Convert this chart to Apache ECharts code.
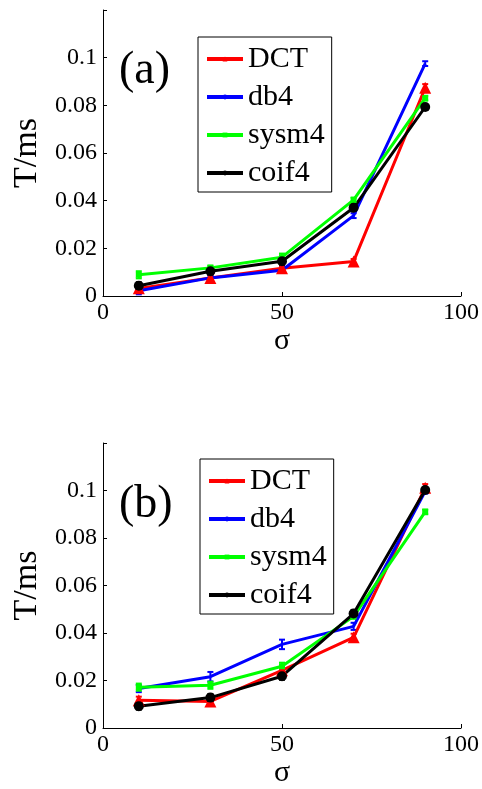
<!DOCTYPE html>
<html>
<head>
<meta charset="utf-8">
<script src="https://cdn.jsdelivr.net/npm/echarts@6/dist/echarts.min.js"></script>
<style>
html,body{margin:0;padding:0;background:#fff;}
#c{width:482px;height:789px;}
</style>
</head>
<body>
<div id="c"></div>
<script>
const sigma = [10, 30, 50, 70, 90];
const seriesNames = ['DCT', 'db4', 'sysm4', 'coif4'];
// panel (a) means
const a_DCT   = [0.0032, 0.0076, 0.0116, 0.0145, 0.0874];
const a_db4   = [0.0022, 0.0076, 0.0108, 0.0337, 0.0975];
const a_sysm4 = [0.0089, 0.0118, 0.0163, 0.0403, 0.0830];
const a_coif4 = [0.0043, 0.0104, 0.0146, 0.0370, 0.0793];
// panel (a) error half-widths
const a_DCT_err   = [0.0010, 0.0010, 0.0010, 0.0010, 0.0015];
const a_db4_err   = [0.0015, 0.0010, 0.0010, 0.0010, 0.0010];
const a_sysm4_err = [0.0015, 0.0010, 0.0015, 0.0010, 0.0010];
const a_coif4_err = [0.0015, 0.0015, 0.0015, 0.0015, 0.0010];
// panel (b) means
const b_DCT   = [0.0117, 0.0112, 0.0243, 0.0382, 0.1012];
const b_db4   = [0.0166, 0.0216, 0.0352, 0.0428, 0.0997];
const b_sysm4 = [0.0172, 0.0180, 0.0260, 0.0470, 0.0910];
const b_coif4 = [0.0092, 0.0128, 0.0218, 0.0482, 0.1002];
// panel (b) error half-widths
const b_DCT_err   = [0.0015, 0.0015, 0.0015, 0.0015, 0.0015];
const b_db4_err   = [0.0015, 0.0020, 0.0020, 0.0015, 0.0010];
const b_sysm4_err = [0.0015, 0.0015, 0.0015, 0.0010, 0.0010];
const b_coif4_err = [0.0015, 0.0015, 0.0015, 0.0015, 0.0010];
const yTicks = [0, 0.02, 0.04, 0.06, 0.08, 0.1];
const xTicks = [0, 50, 100];

const colors = {DCT:'#ff0000', db4:'#0000ff', sysm4:'#00ff00', coif4:'#000000'};
const symbols = {DCT:'triangle', db4:'none', sysm4:'rect', coif4:'circle'};
const symSizes = {DCT:12, db4:0, sysm4:6, coif4:10};
const FONT = 'Liberation Serif';

function mkSeries(name, vals, idx){
  return {
    name: name, type: 'line', xAxisIndex: idx, yAxisIndex: idx,
    data: sigma.map((s,i)=>[s, vals[i]]),
    symbol: symbols[name], symbolSize: symSizes[name], showSymbol: symbols[name] !== 'none',
    lineStyle: {color: colors[name], width: 3},
    itemStyle: {color: colors[name]},
    animation: false
  };
}
function mkErr(name, vals, errs, idx){
  return {
    name: name + ' err', type: 'custom', xAxisIndex: idx, yAxisIndex: idx,
    data: sigma.map((s,i)=>[s, vals[i] - errs[i], vals[i] + errs[i]]),
    encode: {x: 0, y: [1, 2]},
    silent: true, animation: false,
    renderItem: function(params, api){
      const lo = api.coord([api.value(0), api.value(1)]);
      const hi = api.coord([api.value(0), api.value(2)]);
      const hw = 3;
      const st = {stroke: colors[name], lineWidth: 2, fill: null};
      return {type:'group', children:[
        {type:'line', shape:{x1:lo[0], y1:lo[1], x2:hi[0], y2:hi[1]}, style: st},
        {type:'line', shape:{x1:lo[0]-hw, y1:lo[1], x2:lo[0]+hw, y2:lo[1]}, style: st},
        {type:'line', shape:{x1:hi[0]-hw, y1:hi[1], x2:hi[0]+hw, y2:hi[1]}, style: st}
      ]};
    }
  };
}
function xAxis(idx){
  return {
    type:'value', gridIndex: idx, min:0, max:100, interval:50,
    axisLine:{show:true, onZero:false, lineStyle:{color:'#000', width:1}},
    axisTick:{show:true, inside:true, length:4, lineStyle:{color:'#000'}},
    splitLine:{show:false},
    axisLabel:{color:'#000', fontFamily:FONT, fontSize:24, margin:5},
    name:'σ', nameLocation:'middle', nameGap:30,
    nameTextStyle:{color:'#000', fontFamily:FONT, fontSize:30}
  };
}
function yAxis(idx){
  return {
    type:'value', gridIndex: idx, min:0, max:0.12, interval:0.02,
    axisLine:{show:true, onZero:false, lineStyle:{color:'#000', width:1}},
    axisTick:{show:true, inside:true, length:4, lineStyle:{color:'#000'}},
    splitLine:{show:false},
    axisLabel:{color:'#000', fontFamily:FONT, fontSize:24, margin:6,
      formatter: v => { const r = +(+v).toFixed(2); return yTicks.some(t=>Math.abs(t-r)<1e-9) ? String(r) : ''; }},
    name:'T/ms', nameLocation:'middle', nameGap:56, nameRotate:90,
    nameTextStyle:{color:'#000', fontFamily:FONT, fontSize:34}
  };
}
function legend(left, top){
  return {
    left:left, top:top, orient:'vertical', align:'left',
    data: seriesNames,
    itemWidth:36, itemHeight:6, itemGap:8,
    padding:[7,7,4,7],
    borderColor:'#000', borderWidth:1, backgroundColor:'#fff',
    lineStyle:{width:4},
    textStyle:{color:'#000', fontFamily:FONT, fontSize:30, lineHeight:30},
    selectedMode:false
  };
}

const chart = echarts.init(document.getElementById('c'), null, {renderer:'canvas'});
chart.setOption({
  animation:false,
  backgroundColor:'#fff',
  textStyle:{fontFamily:FONT},
  grid:[
    {left:103, right:21, top:10, height:286},
    {left:103, right:21, top:443, height:288}
  ],
  xAxis:[xAxis(0), xAxis(1)],
  yAxis:[yAxis(0), yAxis(1)],
  legend:[legend(198,37), legend(200,459)],
  graphic:[
    {type:'text', left:119, top:48, style:{text:'(a)', font:'46px '+FONT, fill:'#000'}},
    {type:'text', left:119, top:482, style:{text:'(b)', font:'46px '+FONT, fill:'#000'}}
  ],
  series:[
    mkErr('DCT', a_DCT, a_DCT_err, 0), mkSeries('DCT', a_DCT, 0),
    mkErr('db4', a_db4, a_db4_err, 0), mkSeries('db4', a_db4, 0),
    mkErr('sysm4', a_sysm4, a_sysm4_err, 0), mkSeries('sysm4', a_sysm4, 0),
    mkErr('coif4', a_coif4, a_coif4_err, 0), mkSeries('coif4', a_coif4, 0),
    mkErr('DCT', b_DCT, b_DCT_err, 1), mkSeries('DCT', b_DCT, 1),
    mkErr('db4', b_db4, b_db4_err, 1), mkSeries('db4', b_db4, 1),
    mkErr('sysm4', b_sysm4, b_sysm4_err, 1), mkSeries('sysm4', b_sysm4, 1),
    mkErr('coif4', b_coif4, b_coif4_err, 1), mkSeries('coif4', b_coif4, 1)
  ]
});
</script>
</body>
</html>
